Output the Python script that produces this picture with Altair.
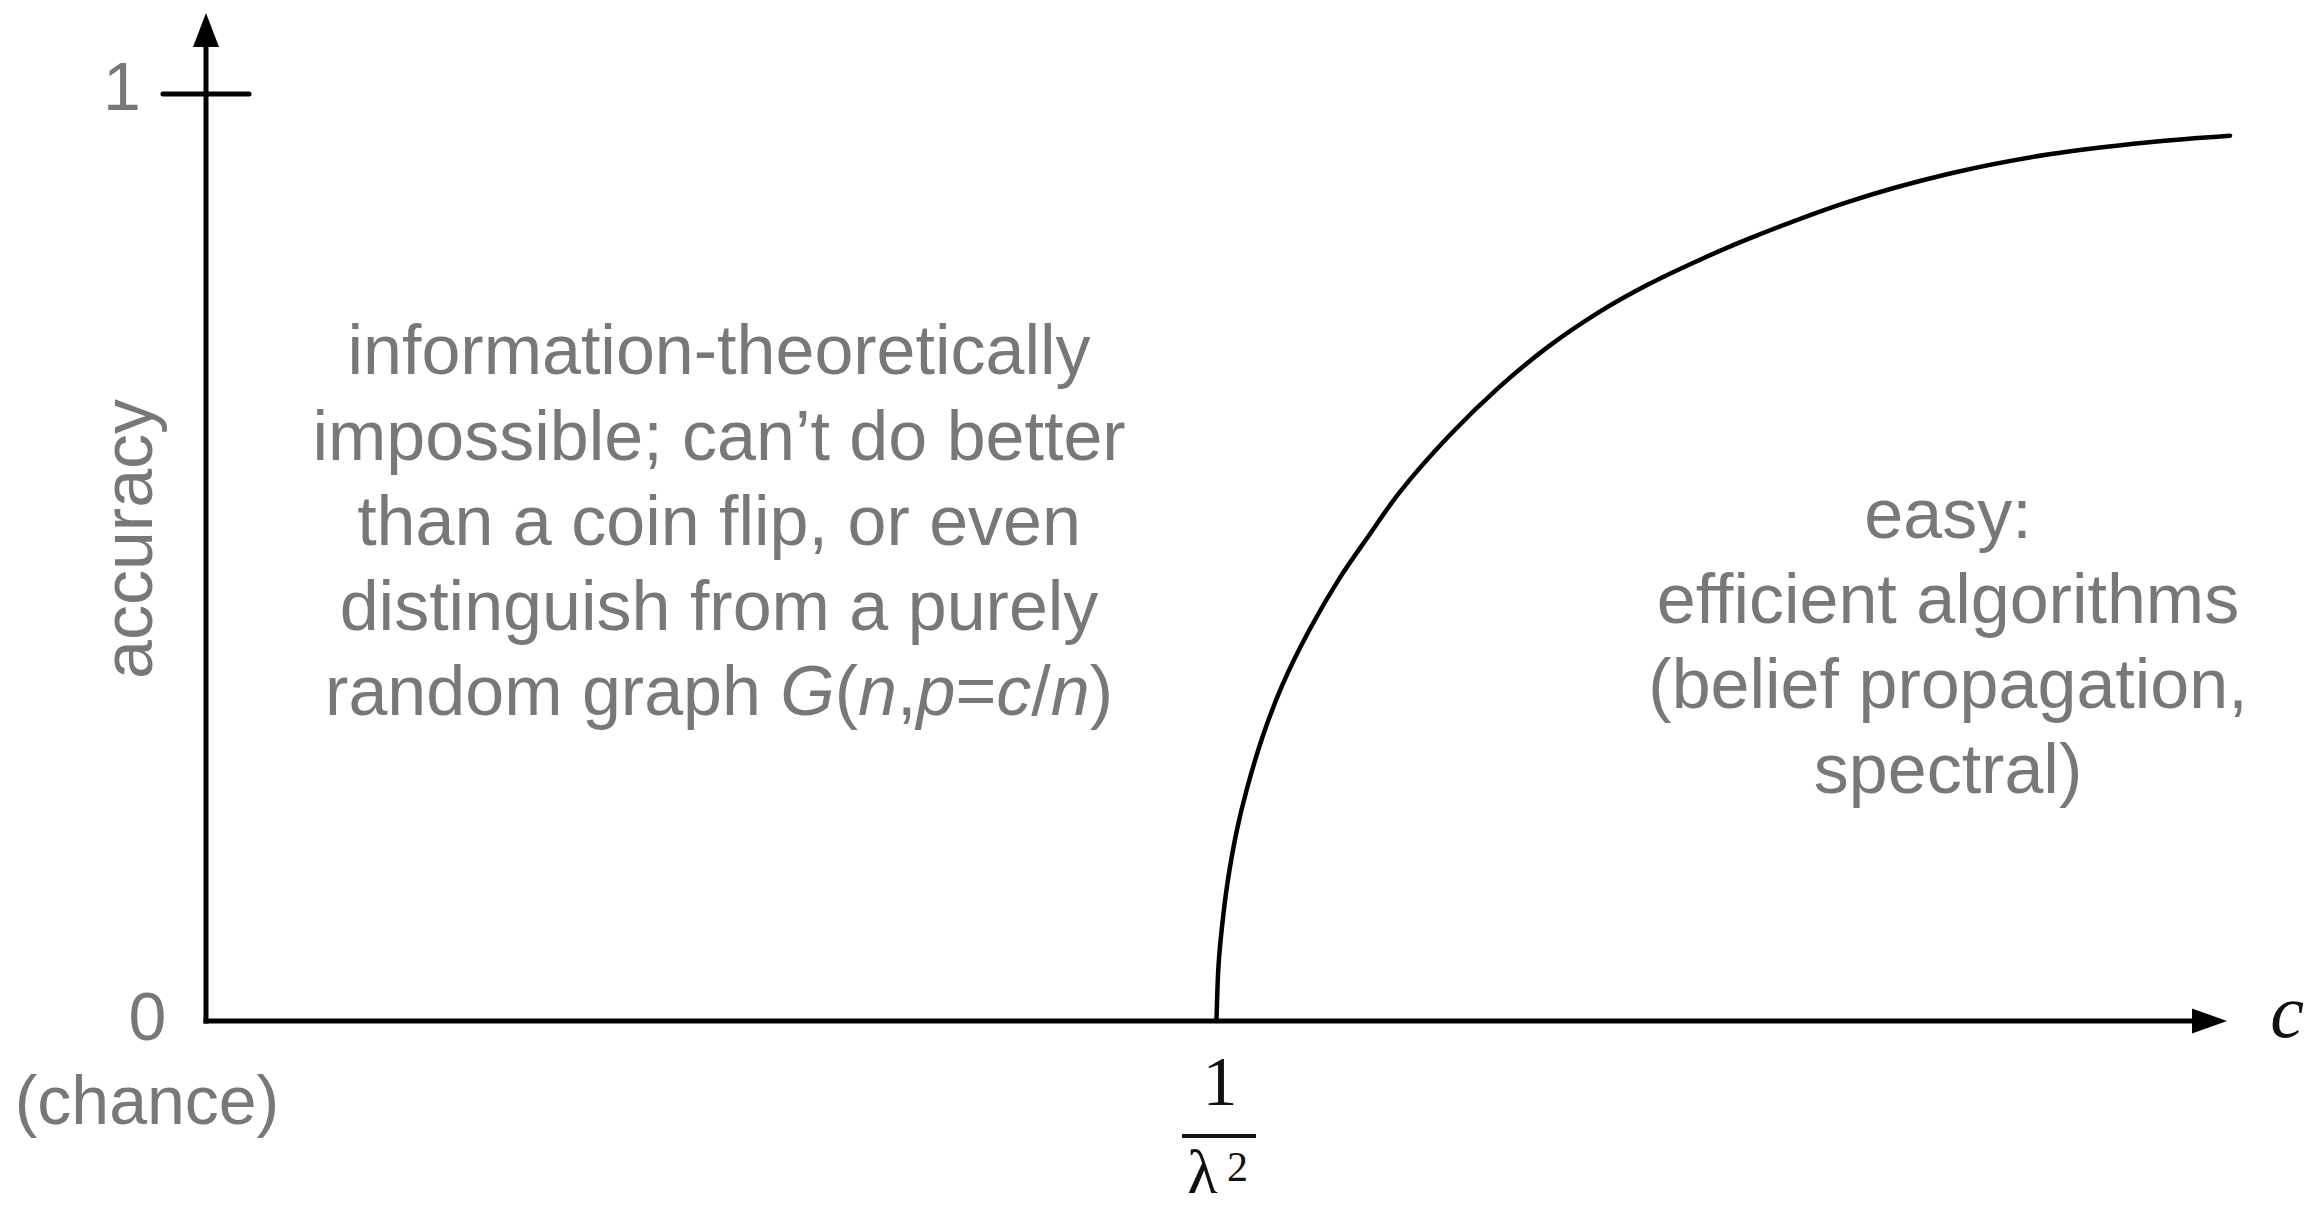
import altair as alt
import pandas as pd

# ---------------- data ----------------
curve_c = [1.000, 1.002, 1.005, 1.011, 1.020, 1.030, 1.046, 1.065, 1.092, 1.122,
           1.151, 1.181, 1.230, 1.280, 1.329, 1.379, 1.428, 1.478, 1.527, 1.626,
           1.725, 1.824, 1.923, 2.003]
curve_acc = [0.000, 0.060, 0.097, 0.150, 0.205, 0.250, 0.308, 0.362, 0.422, 0.478,
             0.524, 0.570, 0.631, 0.684, 0.728, 0.765, 0.795, 0.821, 0.844, 0.884,
             0.914, 0.935, 0.948, 0.955]

y_tick_labels = ["1", "0", "(chance)"]
y_title = "accuracy"
x_title = "c"
threshold_num = "1"
threshold_den = "λ"
threshold_sup = "2"

left_lines = ["information-theoretically",
              "impossible; can’t do better",
              "than a coin flip, or even",
              "distinguish from a purely"]
# last line, split into (text, italic) pieces
left_last = [("random graph ", False), ("G", True), ("(", False), ("n", True),
             (",", False), ("p", True), ("=", False), ("c", True), ("/", False),
             ("n", True), (")", False)]
right_lines = ["easy:", "efficient algorithms", "(belief propagation,", "spectral)"]

# ---------------- styling ----------------
SANS = "Liberation Sans"
SERIF = "Liberation Serif"
GRAY = "#787878"
FS = 70
W_PX, H_PX = 2021, 927

xs = alt.Scale(domain=[0, 2], nice=False, zero=False)
ys = alt.Scale(domain=[0, 1], nice=False, zero=False)


def X(f):
    return alt.X(f, type="quantitative", scale=xs, axis=None)


def Y(f):
    return alt.Y(f, type="quantitative", scale=ys, axis=None)


layers = []

# curve
curve_df = pd.DataFrame({"c": curve_c, "acc": curve_acc})
layers.append(alt.Chart(curve_df).mark_line(color="black", strokeWidth=4.5,
                                             interpolate="catmull-rom", strokeCap="round",
                                             clip=False)
              .encode(x=X("c"), y=Y("acc")))

# axis lines
axes_df = pd.DataFrame({"x": [0, 0], "y": [0, 0], "x2": [0, 1.97], "y2": [1.055, 0]})
layers.append(alt.Chart(axes_df).mark_rule(color="black", strokeWidth=5, strokeCap="square")
              .encode(x=X("x"), y=Y("y"), x2=alt.X2("x2"), y2=alt.Y2("y2")))

# tick at accuracy 1
tick_df = pd.DataFrame({"x": [-0.0426], "y": [1.0], "x2": [0.0426], "y2": [1.0]})
layers.append(alt.Chart(tick_df).mark_rule(color="black", strokeWidth=5, strokeCap="round")
              .encode(x=X("x"), y=Y("y"), x2=alt.X2("x2"), y2=alt.Y2("y2")))

# arrow heads
up_df = pd.DataFrame({"x": [0.0], "y": [1.069]})
layers.append(alt.Chart(up_df).mark_point(shape="M-0.765,1L0,-1L0.765,1Z", size=1156,
                                          filled=True, color="black", opacity=1, strokeWidth=0)
              .encode(x=X("x"), y=Y("y")))
right_df = pd.DataFrame({"x": [1.9827], "y": [0.0]})
layers.append(alt.Chart(right_df).mark_point(shape="M-1,-0.714L1,0L-1,0.714Z", size=1225,
                                             filled=True, color="black", opacity=1, strokeWidth=0)
              .encode(x=X("x"), y=Y("y")))

# fraction bar under threshold
bar_df = pd.DataFrame({"x": [0.9659], "y": [-0.1241], "x2": [1.0391], "y2": [-0.1241]})
layers.append(alt.Chart(bar_df).mark_rule(color="#111111", strokeWidth=4)
              .encode(x=X("x"), y=Y("y"), x2=alt.X2("x2"), y2=alt.Y2("y2")))


def text_layer(df, **mk):
    return (alt.Chart(df).mark_text(baseline="alphabetic", **mk)
            .encode(x=X("x"), y=Y("y"), text=alt.Text("t:N")))


# y tick labels
ytl_df = pd.DataFrame({"t": y_tick_labels,
                       "x": [-0.0831, -0.0579, -0.0584],
                       "y": [0.9827, -0.0205, -0.1111]})
layers.append(text_layer(ytl_df, font=SANS, fontSize=68, color=GRAY, align="center"))

# y title
yt_df = pd.DataFrame({"t": [y_title], "x": [-0.0534], "y": [0.52]})
layers.append(text_layer(yt_df, font=SANS, fontSize=FS, color=GRAY, align="center", angle=270))

# x title
xt_df = pd.DataFrame({"t": [x_title], "x": [2.0594], "y": [-0.0173]})
layers.append(text_layer(xt_df, font=SERIF, fontSize=76, fontStyle="italic",
                         color="#111111", align="center"))

# threshold label 1 / λ^2
num_df = pd.DataFrame({"t": [threshold_num], "x": [1.0035], "y": [-0.0906]})
layers.append(text_layer(num_df, font=SERIF, fontSize=70, color="#111111", align="center"))
den_df = pd.DataFrame({"t": [threshold_den], "x": [0.9861], "y": [-0.1866]})
layers.append(text_layer(den_df, font=SERIF, fontSize=64, color="#111111", align="center"))
sup_df = pd.DataFrame({"t": [threshold_sup], "x": [1.0104], "y": [-0.1726]})
layers.append(text_layer(sup_df, font=SERIF, fontSize=42, color="#111111", align="left"))

# left annotation
left_base = [0.6979, 0.6052, 0.5135, 0.4218, 0.3301]
left_cx = 0.5077
left_df = pd.DataFrame({"t": left_lines, "x": [left_cx] * 4, "y": left_base[:4]})
layers.append(text_layer(left_df, font=SANS, fontSize=FS, color=GRAY, align="center"))

# last line built from pieces (Arial advance widths, per 1000 em)
adv = {"r": 333, "a": 556, "n": 556, "d": 556, "o": 556, "m": 833, " ": 278,
       "g": 556, "p": 556, "h": 556, "G": 778, "(": 333, ",": 278, "=": 584,
       "c": 500, "/": 278, ")": 333}
widths = [sum(adv[ch] for ch in txt) * FS / 1000 for txt, _ in left_last]
total = sum(widths)
offset = -total / 2
for (txt, ital), w in zip(left_last, widths):
    df = pd.DataFrame({"t": [txt], "x": [left_cx], "y": [left_base[4]]})
    kw = dict(font=SANS, fontSize=FS, color=GRAY, align="left", dx=offset)
    if ital:
        kw["fontStyle"] = "italic"
    layers.append(text_layer(df, **kw))
    offset += w

# right annotation
right_base = [0.5210, 0.4293, 0.3376, 0.2460]
right_df2 = pd.DataFrame({"t": right_lines, "x": [1.7239] * 4, "y": right_base})
layers.append(text_layer(right_df2, font=SANS, fontSize=FS, color=GRAY, align="center"))

chart = (alt.layer(*layers)
         .properties(width=W_PX, height=H_PX, autosize="none", background="white",
                     padding={"left": 198, "top": 86, "right": 80, "bottom": 172})
         .configure_view(stroke=None, strokeWidth=0))

chart.save("out.html", embed_options={"renderer": "svg", "actions": False})
